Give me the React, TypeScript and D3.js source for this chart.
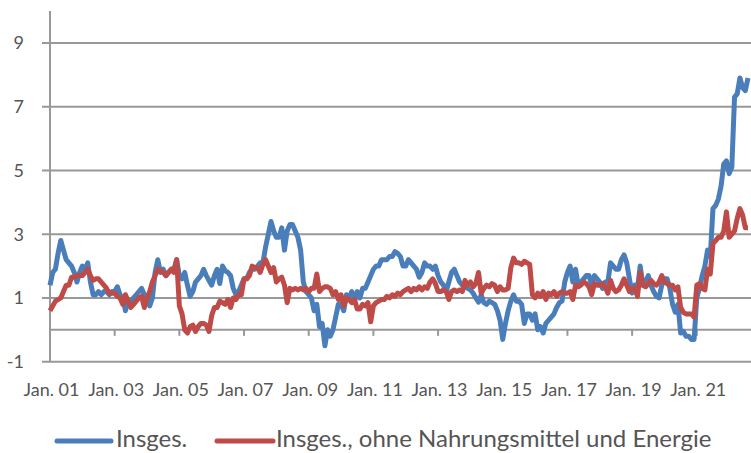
import React, { useRef, useEffect } from 'react';
import * as d3 from 'd3';

// monthly values, Jan 2001 .. Aug 2022
const insgesamt = [
  1.4, 1.8, 1.9, 2.4, 2.8, 2.5, 2.2, 2.1, 2.0, 1.8, 1.5, 1.8,
  2.0, 1.9, 2.1, 1.5, 1.1, 1.1, 1.2, 1.1, 1.2, 1.2, 1.1, 1.2,
  1.2, 1.35, 1.1, 1.0, 0.6, 0.9, 0.9, 1.0, 1.1, 1.2, 1.3, 1.1,
  1.0, 0.75, 1.0, 1.8, 2.2, 1.8, 1.9, 1.7, 1.8, 1.9, 1.9, 2.2,
  1.7, 1.6, 1.8, 1.4, 1.05, 1.2, 1.5, 1.6, 1.7, 1.9, 1.7, 1.55,
  1.4, 1.7, 1.9, 1.45, 2.0, 1.85, 1.8, 1.7, 1.3, 1.1, 1.2, 1.4,
  1.6, 1.6, 1.8, 1.9, 1.9, 2.0, 2.1, 2.1, 2.6, 3.0, 3.4, 3.1,
  2.9, 2.9, 3.2, 2.5, 3.1, 3.3, 3.3, 3.1, 2.9, 2.5, 1.5, 1.2,
  1.1, 1.0, 0.6, 0.8, 0.1, 0.2, -0.5, 0.0, -0.2, 0.0, 0.4, 0.8,
  0.8, 0.6, 1.1, 1.0, 1.2, 0.9, 1.2, 1.0, 1.3, 1.3, 1.5, 1.7,
  1.9, 2.0, 2.0, 2.2, 2.2, 2.2, 2.3, 2.3, 2.45, 2.4, 2.3, 2.0,
  2.0, 2.2, 2.1, 2.0, 1.9, 1.65, 1.8, 2.1, 2.0, 2.0, 1.9, 2.0,
  1.7, 1.5, 1.4, 1.2, 1.5, 1.8, 1.9, 1.7, 1.5, 1.4, 1.35, 1.3,
  1.25, 1.15, 1.0, 0.87, 1.1, 0.85, 0.8, 0.9, 0.85, 0.8, 0.6, 0.3,
  -0.3, 0.2, 0.6, 0.9, 1.1, 0.9, 0.9, 0.8, 0.2, 0.5, 0.5, 0.3,
  0.5, 0.0, 0.1, -0.1, 0.2, 0.3, 0.4, 0.5, 0.7, 0.85, 0.9, 1.5,
  1.8, 2.0, 1.5, 1.9, 1.4, 1.5, 1.6, 1.7, 1.7, 1.4, 1.7, 1.6,
  1.5, 1.3, 1.5, 1.5, 2.1, 2.0, 1.9, 1.9, 2.2, 2.35, 2.1, 1.6,
  1.15, 1.4, 1.3, 2.0, 1.4, 1.5, 1.7, 1.4, 1.2, 1.05, 1.0, 1.4,
  1.6, 1.6, 1.3, 0.8, 0.55, 0.8, -0.1, -0.05, -0.2, -0.2, -0.3, -0.3,
  1.0, 1.3, 1.7, 2.0, 2.5, 2.3, 3.8, 3.9, 4.1, 4.5, 5.2, 5.3,
  4.9, 5.1, 7.3, 7.4, 7.9, 7.6, 7.5, 7.9,
];

const ohneNahrungEnergie = [
  0.6, 0.75, 0.9, 0.95, 1.0, 1.2, 1.4, 1.4, 1.65, 1.65, 1.7, 1.7,
  1.7, 1.8, 1.9, 1.7, 1.55, 1.6, 1.6, 1.5, 1.4, 1.3, 1.15, 1.15,
  1.15, 1.05, 1.0, 0.8, 1.1, 0.9, 0.7, 0.8, 0.9, 1.0, 1.05, 0.7,
  1.0, 1.2, 1.5, 1.7, 1.9, 1.85, 1.8, 1.7, 1.8, 1.9, 1.8, 2.2,
  0.75, 0.5, 0.0, -0.1, 0.1, 0.15, -0.05, 0.1, 0.2, 0.2, 0.15, -0.05,
  0.45, 0.7, 0.7, 0.9, 0.85, 0.8, 0.95, 0.7, 1.0, 0.95, 1.1, 1.1,
  1.6, 1.6, 1.7, 2.0, 1.95, 1.95, 1.8, 2.05, 2.2, 2.0, 1.8, 1.95,
  1.5, 1.6, 1.65, 1.4, 0.85, 1.3, 1.25, 1.3, 1.25, 1.3, 1.25, 1.3,
  1.2, 1.3, 1.3, 1.75, 1.2, 1.3, 1.35, 1.35, 1.3, 1.1, 1.2, 0.95,
  1.1, 0.75, 1.0, 0.95, 0.85, 0.95, 0.65, 0.65, 0.8, 0.75, 0.85, 0.25,
  0.75, 0.85, 0.9, 0.95, 0.95, 1.05, 1.0, 1.1, 1.05, 1.15, 1.1, 1.2,
  1.25, 1.3, 1.2, 1.3, 1.25, 1.35, 1.25, 1.35, 1.3, 1.5, 1.6, 1.45,
  1.2, 1.2, 1.25, 1.2, 0.95, 1.2, 1.25, 1.2, 1.25, 1.2, 1.55, 1.4,
  1.5, 1.35, 1.45, 1.8, 1.15, 1.3, 1.4, 1.35, 1.45, 1.4, 1.2, 1.35,
  1.25, 1.25, 1.3, 1.95, 2.25, 2.1, 2.1, 2.05, 2.15, 2.1, 2.05, 1.1,
  1.0, 1.15, 1.05, 1.2, 0.95, 1.15, 1.1, 1.2, 1.05, 1.15, 1.2, 1.15,
  1.15, 1.2, 0.95, 1.4, 1.35, 1.4, 1.5, 1.45, 1.35, 1.1, 1.45, 1.4,
  1.4, 1.45, 1.35, 1.15, 1.55, 1.3, 1.2, 1.25, 1.4, 1.6, 1.4, 1.2,
  1.3, 1.3, 1.05, 1.8, 1.4, 1.35, 1.45, 1.55, 1.45, 1.4, 1.5, 1.7,
  1.5, 1.45, 1.4, 1.4, 1.25, 1.35, 0.7, 0.55, 0.5, 0.5, 0.5, 0.4,
  1.4, 1.45, 1.3, 1.25, 1.9, 1.75, 2.7, 2.8, 2.9, 2.9, 3.1, 3.7,
  2.9, 3.0, 3.1, 3.5, 3.8, 3.6, 3.2, 3.2,
];

const xTickLabels = ['Jan. 01', 'Jan. 03', 'Jan. 05', 'Jan. 07', 'Jan. 09', 'Jan. 11',
  'Jan. 13', 'Jan. 15', 'Jan. 17', 'Jan. 19', 'Jan. 21'];
const yTicks = [-1, 1, 3, 5, 7, 9];
const legendLabels = ['Insges.', 'Insges., ohne Nahrungsmittel und Energie'];

const BLUE = '#4a7ebb';
const RED = '#be4b48';
const GRID = '#989898';
const TEXT = '#555555';
const FONT = 'Lato, "Open Sans", sans-serif';

const InflationChart = () => {
  const svgRef = useRef(null);

  useEffect(() => {
    const width = 751;
    const height = 453;
    const left = 50;

    const svg = d3.select(svgRef.current)
      .attr('width', width)
      .attr('height', height);
    svg.selectAll('*').remove();

    const x = d3.scaleLinear().domain([0, insgesamt.length - 1]).range([left, 748]);
    const y = d3.scaleLinear().domain([-1, 10]).range([361.7, 11]);

    // horizontal gridlines
    svg.append('g')
      .selectAll('line')
      .data(yTicks)
      .join('line')
      .attr('x1', 42)
      .attr('x2', width)
      .attr('y1', (d) => y(d))
      .attr('y2', (d) => y(d))
      .attr('stroke', GRID)
      .attr('stroke-width', 2);

    svg.append('g')
      .selectAll('text')
      .data(yTicks)
      .join('text')
      .attr('x', 24)
      .attr('y', (d) => y(d) + 6.5)
      .attr('text-anchor', 'end')
      .attr('font-family', FONT)
      .attr('font-size', 18)
      .attr('fill', TEXT)
      .text((d) => (d < 0 ? '-' + Math.abs(d) : d));

    // y axis
    svg.append('line')
      .attr('x1', left).attr('x2', left)
      .attr('y1', y(10)).attr('y2', y(-1))
      .attr('stroke', GRID).attr('stroke-width', 2);

    // x axis at zero with tick marks every two years
    svg.append('line')
      .attr('x1', left).attr('x2', width)
      .attr('y1', y(0)).attr('y2', y(0))
      .attr('stroke', GRID).attr('stroke-width', 2);

    const tickIdx = xTickLabels.map((_, i) => i * 24);
    svg.append('g')
      .selectAll('line')
      .data(tickIdx.slice(1))
      .join('line')
      .attr('x1', (d) => x(d)).attr('x2', (d) => x(d))
      .attr('y1', y(0)).attr('y2', y(0) + 6)
      .attr('stroke', GRID).attr('stroke-width', 2);

    svg.append('g')
      .selectAll('text')
      .data(xTickLabels)
      .join('text')
      .attr('x', (d, i) => x(tickIdx[i]) + 1.5)
      .attr('y', 396)
      .attr('text-anchor', 'middle')
      .attr('font-family', FONT)
      .attr('font-size', 18)
      .attr('fill', TEXT)
      .text((d) => d);

    const line = d3.line()
      .x((d, i) => x(i))
      .y((d) => y(d));

    [[insgesamt, BLUE], [ohneNahrungEnergie, RED]].forEach(([series, color]) => {
      svg.append('path')
        .datum(series)
        .attr('fill', 'none')
        .attr('stroke', color)
        .attr('stroke-width', 5)
        .attr('stroke-linejoin', 'round')
        .attr('d', line);
    });

    // legend
    const legend = [
      { label: legendLabels[0], color: BLUE, x1: 57, x2: 111, tx: 116 },
      { label: legendLabels[1], color: RED, x1: 217, x2: 273, tx: 276 },
    ];
    const lg = svg.append('g');
    legend.forEach((l) => {
      lg.append('line')
        .attr('x1', l.x1).attr('x2', l.x2)
        .attr('y1', 441).attr('y2', 441)
        .attr('stroke', l.color)
        .attr('stroke-width', 5)
        .attr('stroke-linecap', 'round');
      lg.append('text')
        .attr('x', l.tx)
        .attr('y', 447)
        .attr('font-family', FONT)
        .attr('font-size', 24)
        .attr('fill', TEXT)
        .text(l.label);
    });
  }, []);

  return <svg ref={svgRef} style={{ position: 'absolute', left: 0, top: 0 }}></svg>;
};

export default function App() {
  return <InflationChart />;
}
